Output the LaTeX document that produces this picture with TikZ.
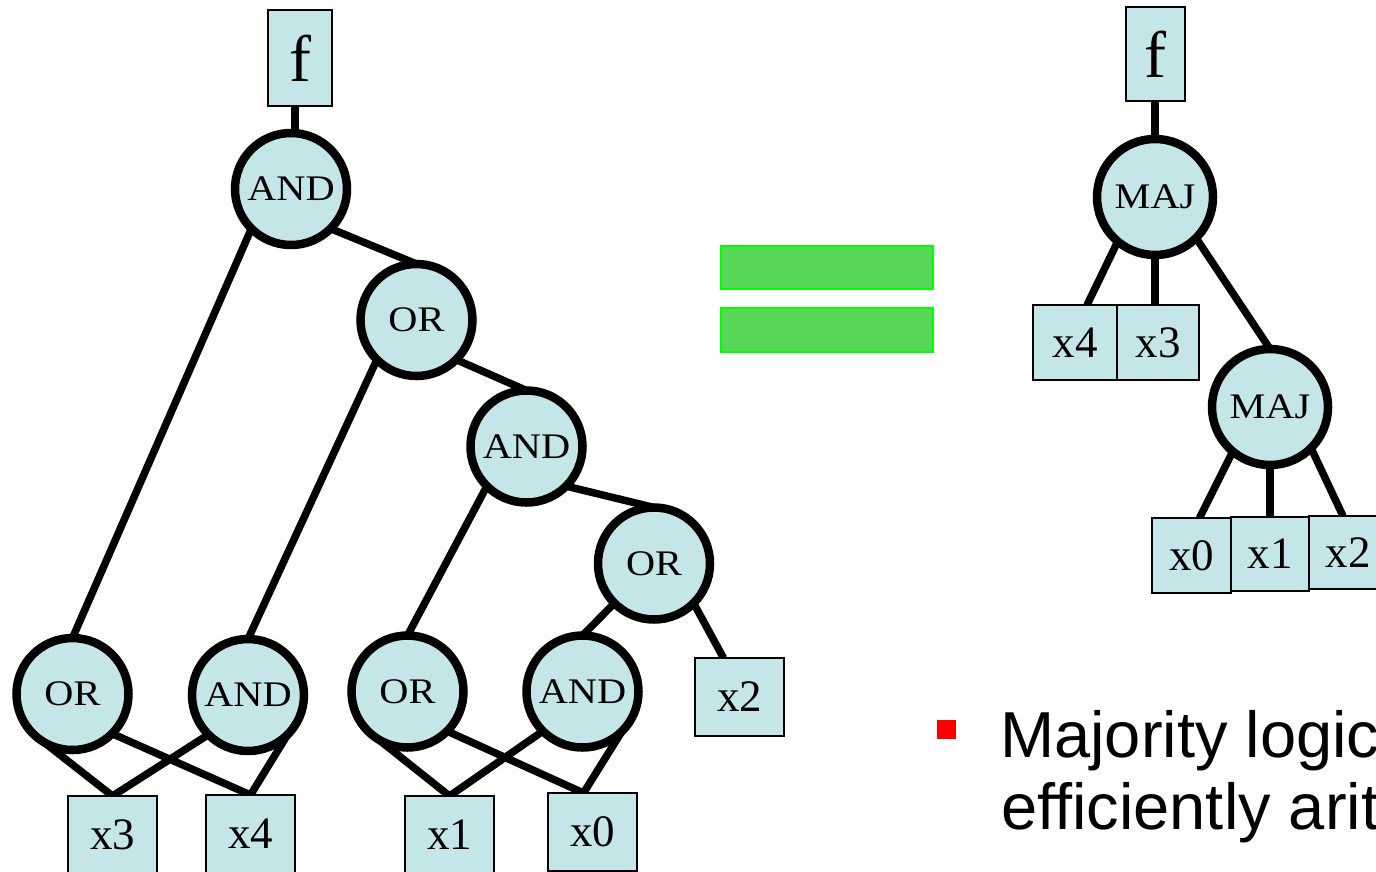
\documentclass[tikz,border=0pt]{standalone}
\usepackage{fontspec}
\setmainfont{Liberation Serif}
\newfontfamily\gatefont{Liberation Serif}[FakeStretch=1.12]
\newfontfamily\labelsans{Liberation Sans}
\usetikzlibrary{backgrounds}
\definecolor{nodefill}{RGB}{196,230,232}
\definecolor{eqfill}{RGB}{86,216,86}
\definecolor{eqedge}{RGB}{0,255,0}
\definecolor{bulletred}{RGB}{255,0,0}
\begin{document}
\begin{tikzpicture}[x=1pt,y=-1pt,
  gate/.style={circle,draw=black,line width=8.5pt,fill=nodefill,minimum size=112pt,
    inner sep=0pt,outer sep=0pt,font=\gatefont\fontsize{36}{36}\selectfont},
  majgate/.style={gate,minimum size=116pt},
  leaf/.style={rectangle,draw=black,line width=1.5pt,fill=nodefill,inner sep=0pt,
    outer sep=0pt,minimum width=89pt,minimum height=78pt,font=\fontsize{45}{45}\selectfont},
  outbox/.style={leaf,font=\fontsize{66}{66}\selectfont},
  wire/.style={line width=7.5pt},
  eqbar/.style={draw=eqedge,fill=eqfill,line width=2pt},
  bodytext/.style={anchor=base west,inner sep=0pt,font=\labelsans\fontsize{65}{65}\selectfont}
]
\useasboundingbox (0,0) rectangle (1376,871);

% ---------- AND/OR tree ----------
\node[outbox,minimum width=64pt,minimum height=96pt] (fL) at (300,58) {f};
\node[gate] (a1) at (291,189) {AND};
\node[gate] (o2) at (416.5,320) {OR};
\node[gate] (a3) at (526.5,446.5) {AND};
\node[gate] (o4) at (654,563.5) {OR};
\node[gate] (ob1) at (72.5,694) {OR};
\node[gate] (ab1) at (248,695) {AND};
\node[gate] (ob2) at (407.5,691.5) {OR};
\node[gate] (ab2) at (582.5,691.5) {AND};

\node[leaf] (x3L) at (112.5,835) {x3};
\node[leaf] (x4L) at (250.5,834) {x4};
\node[leaf] (x1L) at (449.5,835) {x1};
\node[leaf] (x0L) at (592.5,832) {x0};
\node[leaf] (x2L) at (739.5,697) {x2};

% ---------- majority tree ----------
\node[outbox,minimum width=59pt,minimum height=94pt] (fR) at (1155.5,54) {f};
\node[majgate] (m1) at (1155,197) {MAJ};
\node[majgate] (m2) at (1270,407) {MAJ};

\node[leaf,minimum width=84pt,minimum height=75pt] (x4R) at (1075,342.5) {x4};
\node[leaf,minimum width=82pt,minimum height=75pt] (x3R) at (1158,342.5) {x3};
\node[leaf,minimum width=79pt,minimum height=75pt] (x0R) at (1191.5,555.5) {x0};
\node[leaf,minimum width=78pt,minimum height=74pt] (x1R) at (1270,554) {x1};
\node[leaf,minimum width=78pt,minimum height=73pt] (x2R) at (1348,552.5) {x2};

% ---------- wires, behind the gates ----------
\begin{scope}[on background layer]
  \draw[wire] ([xshift=4pt]a1.north) -- ([xshift=4pt]a1.north |- fL.south);
  \draw[wire] (a1.south west) -- (ob1.north);
  \draw[wire] (a1.south east) -- (o2.north);
  \draw[wire] (o2.south west) -- (ab1.north);
  \draw[wire] (o2.south east) -- (a3.north);
  \draw[wire] (a3.south west) -- (ob2.north);
  \draw[wire] (a3.south east) -- (o4.north);
  \draw[wire] (o4.south west) -- (ab2.north);
  \draw[wire] (o4.south east) -- ([xshift=-16pt]x2L.north);
  \draw[wire] (ob1.south west) -- (x3L.north);
  \draw[wire] (ob1.south east) -- (x4L.north);
  \draw[wire] (ab1.south west) -- (x3L.north);
  \draw[wire] (ab1.south east) -- (x4L.north);
  \draw[wire] (ob2.south west) -- (x1L.north);
  \draw[wire] (ob2.south east) -- ([xshift=-9pt]x0L.north);
  \draw[wire] (ab2.south west) -- (x1L.north);
  \draw[wire] (ab2.south east) -- ([xshift=-9pt]x0L.north);

  \draw[wire] (m1.north) -- (m1.north |- fR.south);
  \draw[wire] (m1.230) -- ([xshift=12pt]x4R.north);
  \draw[wire] (m1.south) -- (m1.south |- x3R.north);
  \draw[wire] (m1.south east) -- (m2.north);
  \draw[wire] (m2.230) -- ([xshift=8pt]x0R.north);
  \draw[wire] (m2.south) -- (x1R.north);
  \draw[wire] (m2.south east) -- ([xshift=-5pt]x2R.north);
\end{scope}

% ---------- equals sign ----------
\draw[eqbar] (721,246) rectangle (933,289);
\draw[eqbar] (721,308) rectangle (933,352);

% ---------- bullet text ----------
\fill[bulletred] (937,720) rectangle (956,739);
\node[bodytext] (line1) at (1000,757) {Majority logic};
\node[bodytext] (line2) at (1001,829) {efficiently arit};
\end{tikzpicture}
\end{document}
